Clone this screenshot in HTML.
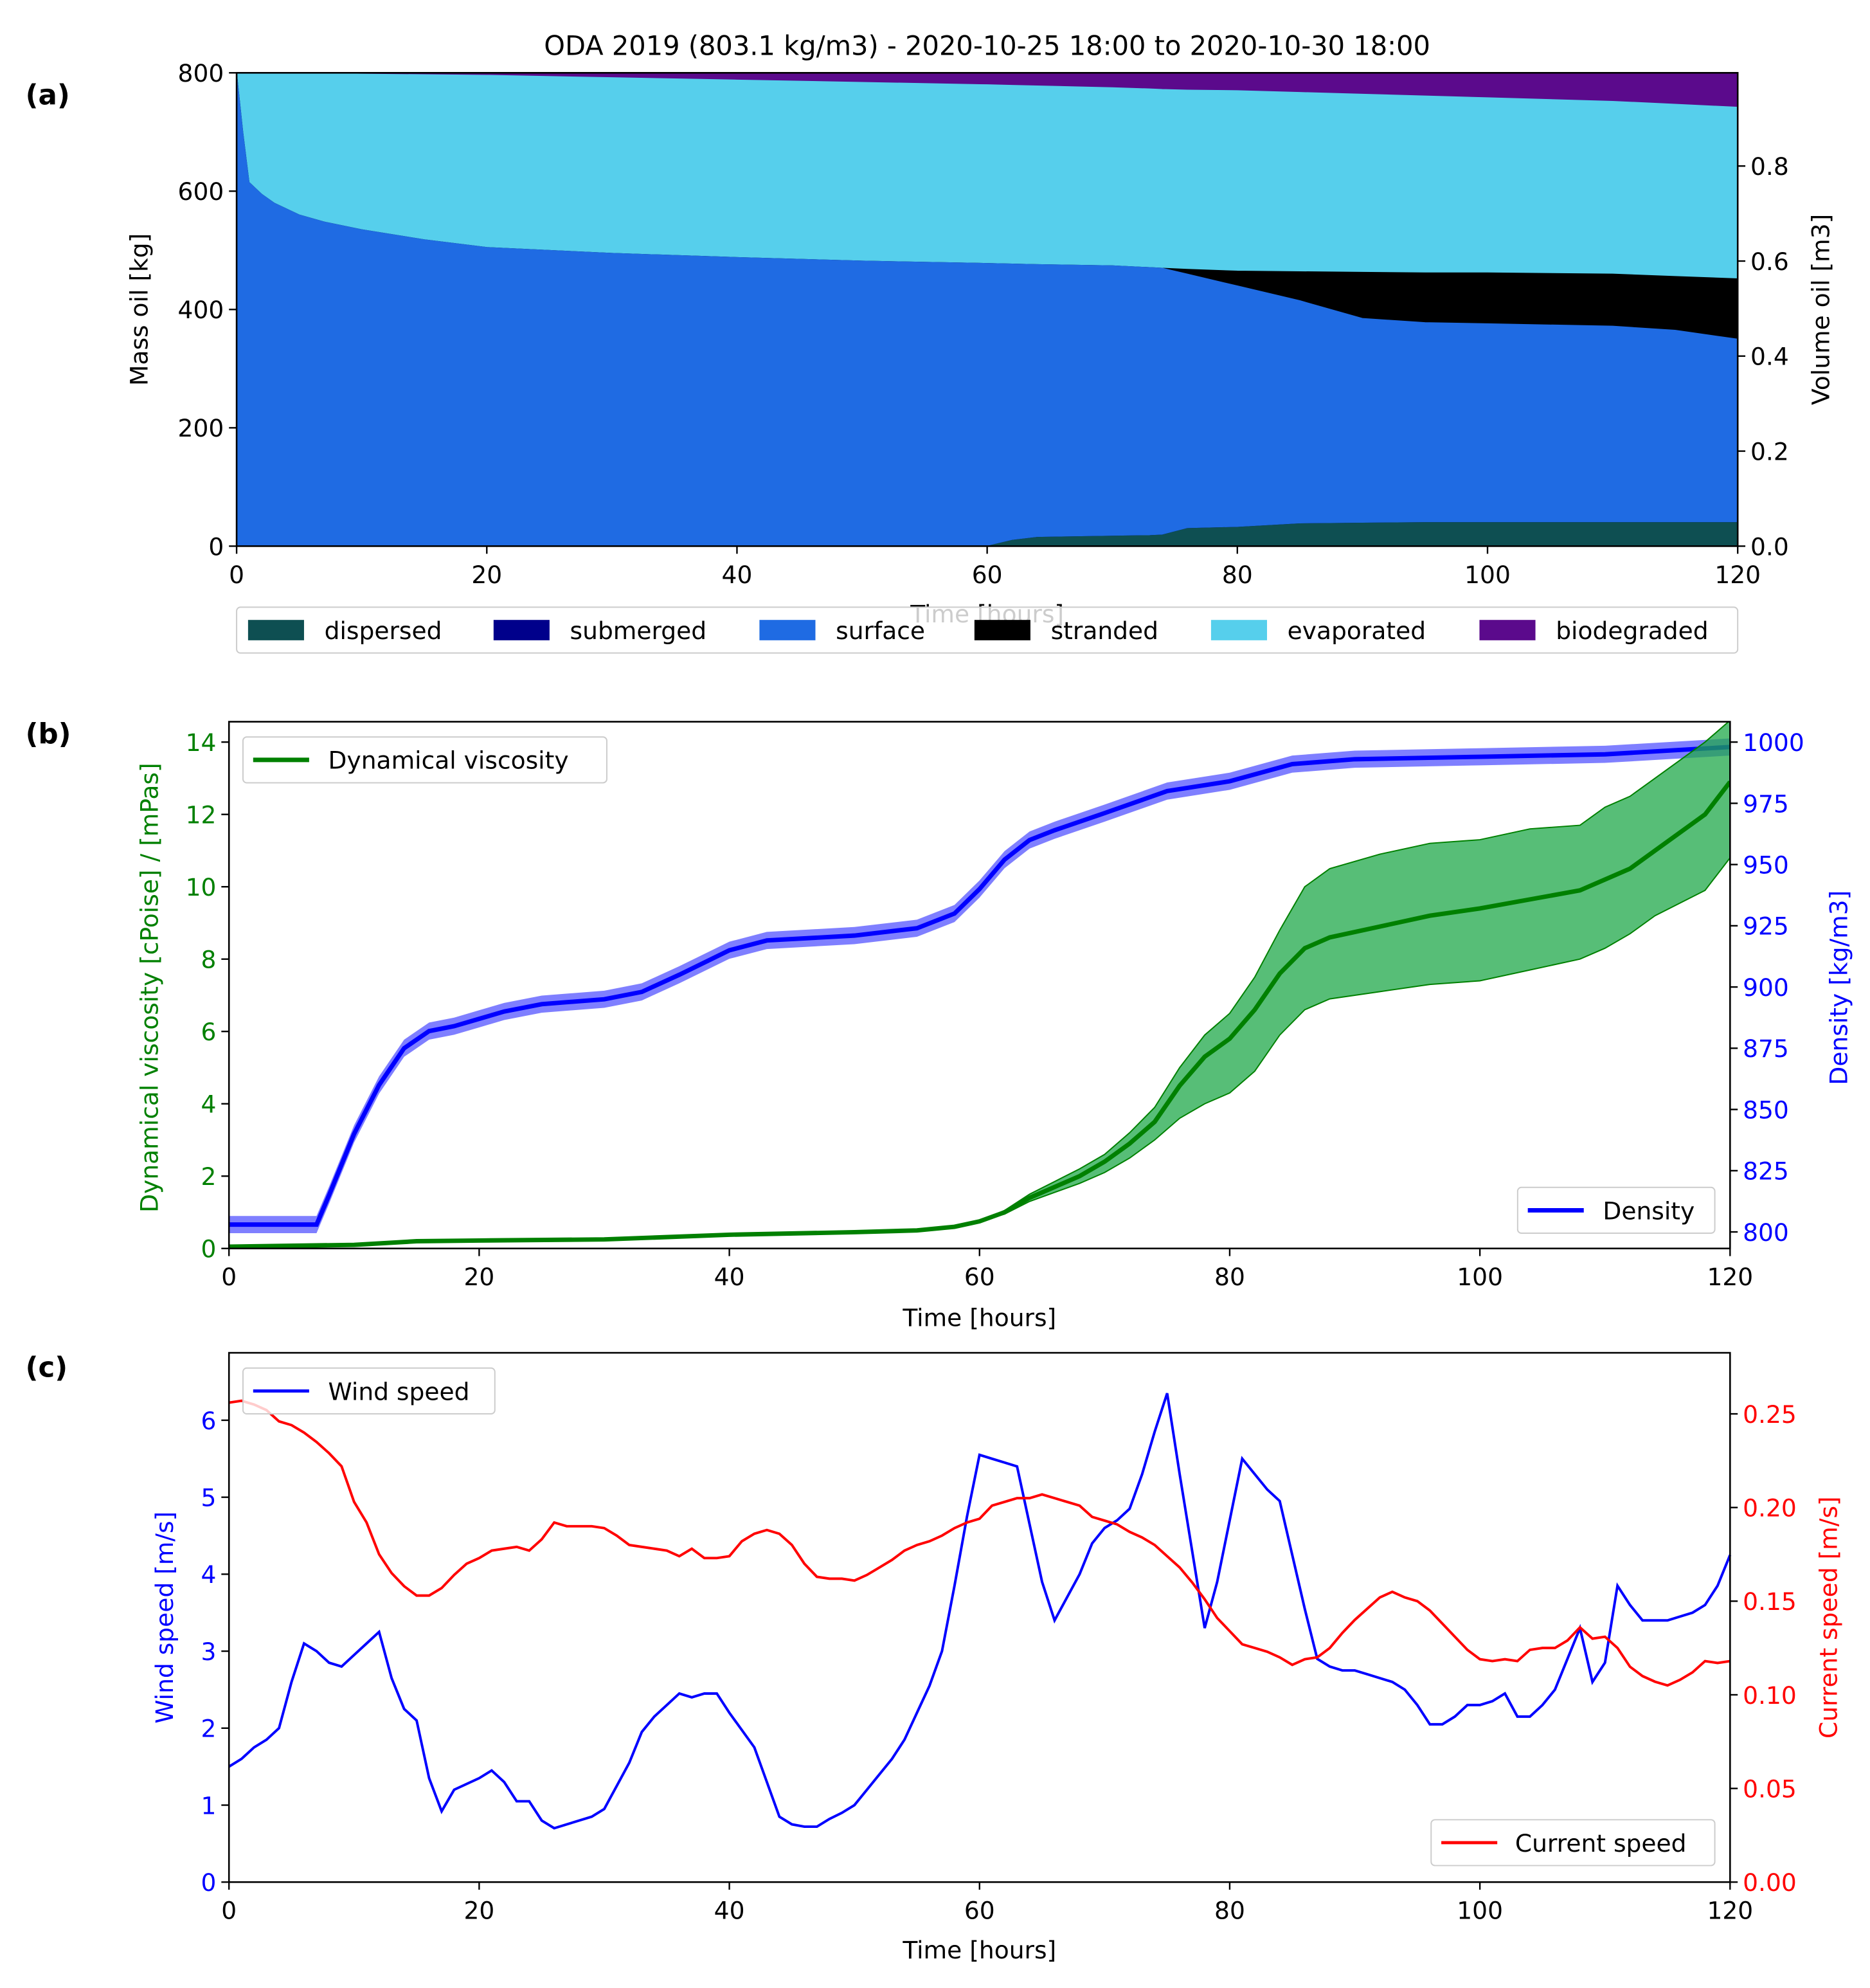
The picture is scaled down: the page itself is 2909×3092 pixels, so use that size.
<!DOCTYPE html>
<html><head><meta charset="utf-8"><style>
html,body{margin:0;padding:0;background:#fff}
svg{display:block}
text{font-family:"DejaVu Sans","Liberation Sans",sans-serif}
</style></head><body>
<svg id="fig" xmlns="http://www.w3.org/2000/svg" width="2909" height="3092" viewBox="0 0 1470 1562"></svg>
<script>
// ---------- Panel (a) data ----------
const aTimes = [0,0.5,1,2,3,5,7,10,15,20,30,40,50,60,62,64,70,73,74,76,80,85,90,95,100,110,115,120];
const aDispersed = [0,0,0,0,0,0,0,0,0,0,0,0,0,0,10,15,17,18,19,30,32,38,39,40,40,40,40,40];
const aSubmerged = [0,0,0,0,0,0,0,0,0,0,0,0,0,0,0,0,0,0,0,0,0,0,0,0,0,0,0,0];
const aSurfaceTop = [800,700,615,595,580,560,548,535,518,505,495,488,482,478,477,476,474,471,470,460,440,415,385,378,376,372,365,350];
const aStrandedTop = [800,700,615,595,580,560,548,535,518,505,495,488,482,478,477,476,474,471,470,468,465,464,463,462,462,460,456,452];
const aEvapTop = [800,800,800,800,800,799,799,798,797,796,792,788,784,780,779,778,775,773,772,771,770,767,764,761,758,752,747,742];
const aTicksX = [0,20,40,60,80,100,120];
const aTicksY = [0,200,400,600,800];
const aTicksVol = [0.0,0.2,0.4,0.6,0.8];
// ---------- Panel (b) data ----------
const bTimes = [0,7,8,10,12,14,16,18,20,22,25,30,33,36,40,43,50,55,58,60,62,64,66,70,75,80,85,90,100,110,120];
const bDensity = [803,803,815,840,860,875,882,884,887,890,893,895,898,905,915,919,921,924,930,940,952,960,964,971,980,984,991,993,994,995,998];
const vTimes = [0,10,15,20,30,40,50,55,58,60,62,64,66,68,70,72,74,76,78,80,82,84,86,88,92,96,100,104,108,110,112,114,118,120];
const vMean = [0.05,0.1,0.2,0.22,0.25,0.38,0.45,0.5,0.6,0.75,1.0,1.4,1.7,2.0,2.4,2.9,3.5,4.5,5.3,5.8,6.6,7.6,8.3,8.6,8.9,9.2,9.4,9.65,9.9,10.2,10.5,11.0,12.0,12.9];
const vLow = [0.05,0.1,0.2,0.22,0.25,0.38,0.45,0.5,0.6,0.75,0.95,1.3,1.55,1.8,2.1,2.5,3.0,3.6,4.0,4.3,4.9,5.9,6.6,6.9,7.1,7.3,7.4,7.7,8.0,8.3,8.7,9.2,9.9,10.8];
const vHigh = [0.05,0.1,0.2,0.22,0.25,0.38,0.45,0.5,0.6,0.75,1.05,1.5,1.85,2.2,2.6,3.2,3.9,5.0,5.9,6.5,7.5,8.8,10.0,10.5,10.9,11.2,11.3,11.6,11.7,12.2,12.5,13.0,14.0,14.6];
const bTicksV = [0,2,4,6,8,10,12,14];
const bTicksD = [800,825,850,875,900,925,950,975,1000];
// ---------- Panel (c) data ----------
const windTimes = [0,1,2,3,4,5,6,7,8,9,10,11,12,13,14,15,16,17,18,20,21,22,23,24,25,26,27,28,29,30,31,32,33,34,35,36,37,38,39,40,42,43,44,45,46,47,48,49,50,51,52,53,54,55,56,57,58,59,60,61,62,63,64,65,66,67,68,69,70,71,72,73,74,75,76,77,78,79,80,81,82,83,84,85,86,87,88,89,90,91,92,93,94,95,96,97,98,99,100,101,102,103,104,105,106,107,108,109,110,111,112,113,114,115,116,117,118,119,120];
const windSpeed = [1.5,1.6,1.75,1.85,2.0,2.6,3.1,3.0,2.85,2.8,2.95,3.1,3.25,2.65,2.25,2.1,1.35,0.92,1.2,1.35,1.45,1.3,1.05,1.05,0.8,0.7,0.75,0.8,0.85,0.95,1.25,1.55,1.95,2.15,2.3,2.45,2.4,2.45,2.45,2.2,1.75,1.3,0.85,0.75,0.72,0.72,0.82,0.9,1.0,1.2,1.4,1.6,1.85,2.2,2.55,3.0,3.85,4.75,5.55,5.5,5.45,5.4,4.65,3.9,3.4,3.7,4.0,4.4,4.6,4.7,4.85,5.3,5.85,6.35,5.3,4.3,3.3,3.9,4.7,5.5,5.3,5.1,4.95,4.25,3.55,2.9,2.8,2.75,2.75,2.7,2.65,2.6,2.5,2.3,2.05,2.05,2.15,2.3,2.3,2.35,2.45,2.15,2.15,2.3,2.5,2.9,3.3,2.6,2.85,3.85,3.6,3.4,3.4,3.4,3.45,3.5,3.6,3.85,4.25];
const curTimes = [0,1,2,3,4,5,6,7,8,9,10,11,12,13,14,15,16,17,18,19,20,21,22,23,24,25,26,27,28,29,30,31,32,33,34,35,36,37,38,39,40,41,42,43,44,45,46,47,48,49,50,51,52,53,54,55,56,57,58,59,60,61,62,63,64,65,66,67,68,69,70,71,72,73,74,75,76,77,78,79,80,81,82,83,84,85,86,87,88,89,90,91,92,93,94,95,96,97,98,99,100,101,102,103,104,105,106,107,108,109,110,111,112,113,114,115,116,117,118,119,120];
const curSpeed = [0.256,0.257,0.255,0.252,0.246,0.244,0.24,0.235,0.229,0.222,0.203,0.192,0.175,0.165,0.158,0.153,0.153,0.157,0.164,0.17,0.173,0.177,0.178,0.179,0.177,0.183,0.192,0.19,0.19,0.19,0.189,0.185,0.18,0.179,0.178,0.177,0.174,0.178,0.173,0.173,0.174,0.182,0.186,0.188,0.186,0.18,0.17,0.163,0.162,0.162,0.161,0.164,0.168,0.172,0.177,0.18,0.182,0.185,0.189,0.192,0.194,0.201,0.203,0.205,0.205,0.207,0.205,0.203,0.201,0.195,0.193,0.191,0.187,0.184,0.18,0.174,0.168,0.16,0.151,0.141,0.134,0.127,0.125,0.123,0.12,0.116,0.119,0.12,0.125,0.133,0.14,0.146,0.152,0.155,0.152,0.15,0.145,0.138,0.131,0.124,0.119,0.118,0.119,0.118,0.124,0.125,0.125,0.129,0.136,0.13,0.131,0.125,0.115,0.11,0.107,0.105,0.108,0.112,0.118,0.117,0.118];
const cTicksW = [0,1,2,3,4,5,6];
const cTicksC = [0.00,0.05,0.10,0.15,0.20,0.25];

const svg = document.getElementById('fig');
const NS = 'http://www.w3.org/2000/svg';
function mk(tag, attrs, parent, txt){
  const e = document.createElementNS(NS, tag);
  for (const k in attrs) e.setAttribute(k, attrs[k]);
  if (txt !== undefined) e.textContent = txt;
  (parent||svg).appendChild(e);
  return e;
}
function lin(d0,d1,r0,r1){ return v => r0 + (v-d0)/(d1-d0)*(r1-r0); }
function pathLine(xs, ys, fx, fy){ return xs.map((t,i)=>(i?'L':'M')+fx(t).toFixed(2)+','+fy(ys[i]).toFixed(2)).join(''); }
function pathBand(xs, lo, hi, fx, fy){
  let d = xs.map((t,i)=>(i?'L':'M')+fx(t).toFixed(2)+','+fy(hi[i]).toFixed(2)).join('');
  for (let i=xs.length-1;i>=0;i--) d += 'L'+fx(xs[i]).toFixed(2)+','+fy(lo[i]).toFixed(2);
  return d+'Z';
}
const FS = 19;
function xAxis(g, fx, y, ticks){
  ticks.forEach(t=>{
    const x = fx(t);
    const l = mk('line',{x1:x,x2:x,y1:y,y2:y+6,stroke:'#000','stroke-width':1.2},g);
     
    const tx = mk('text',{x:x,y:y+29,'text-anchor':'middle','font-size':FS},g,String(t));
     
  });
}
function yAxis(g, fy, x, ticks, side, color, fmt){
  ticks.forEach(t=>{
    const y = fy(t);
    const dx = side==='left' ? -6 : 6;
    const l = mk('line',{x1:x,x2:x+dx,y1:y,y2:y,stroke:'#000','stroke-width':1.2},g);
     
    const tx = mk('text',{x:side==='left'?x-10:x+10,y:y+7,'text-anchor':side==='left'?'end':'start','font-size':FS,fill:color},g,fmt?fmt(t):String(t));
     
  });
}
function rotText(g, x, y, s, color, name){
  const t = mk('text',{x:x,y:y,'text-anchor':'middle','font-size':FS,fill:color,transform:`rotate(-90 ${x} ${y})`},g,s);
   
  return t;
}
function frame(g,x0,y0,x1,y1){
  const r = mk('rect',{x:x0,y:y0,width:x1-x0,height:y1-y0,fill:'none',stroke:'#000','stroke-width':1.3},g);
   
}
function legendBox(g,x,y,w,h,name){
  const r = mk('rect',{x:x,y:y,width:w,height:h,rx:3,fill:'#fff','fill-opacity':0.8,stroke:'#ccc','stroke-width':1},g);
   
}

// ========== Panel (a) ==========
{
  const g = mk('g',{});  
  const X0=186,X1=1366,Y0=57,Y1=429;
  const fx = lin(0,120,X0,X1), fy = lin(0,800,Y1,Y0), fvol = lin(0,800/803.1,Y1,Y0);
  const zeros = aTimes.map(()=>0), full = aTimes.map(()=>800);
  const disp = aDispersed, sub = aDispersed.map((v,i)=>v+aSubmerged[i]);
  const layers = [
    ['biodegraded-area','#5b0a8c',aEvapTop,full],
    ['evaporated-area','#56cfec',aStrandedTop,aEvapTop],
    ['stranded-area','#000000',aSurfaceTop,aStrandedTop],
    ['surface-area','#1f6be3',sub,aSurfaceTop],
    ['submerged-area','#00008b',disp,sub],
    ['dispersed-area','#0e4f52',zeros,disp]
  ];
  layers.forEach(([n,c,lo,hi])=>{
    const p = mk('path',{d:pathBand(aTimes,lo,hi,fx,fy),fill:c,stroke:c,'stroke-width':0.5},g);
     
  });
  frame(g,X0,Y0,X1,Y1);
  xAxis(g,fx,Y1,aTicksX);
  yAxis(g,fy,X0,aTicksY,'left','#000');
  yAxis(g,fvol,X1,aTicksVol,'right','#000',v=>v.toFixed(1));
  rotText(g,116,243,'Mass oil  [kg]','#000','y-axis-title-mass');
  rotText(g,1438,243,'Volume oil [m3]','#000','y-axis-title-volume');
  const xt = mk('text',{x:776,y:489,'text-anchor':'middle','font-size':FS,fill:'#000'},g,'Time  [hours]');
   
  const tt = mk('text',{x:776,y:43,'text-anchor':'middle','font-size':21},g,'ODA 2019 (803.1 kg/m3) - 2020-10-25 18:00 to 2020-10-30 18:00');
   
  const pl = mk('text',{x:20,y:82,'font-size':22,'font-weight':'bold'},g,'(a)');
   
  legendBox(g,186,477,1180,36,'legend-a');
  const entries = [['dispersed','#0e4f52',195],['submerged','#00008b',388],['surface','#1f6be3',597],['stranded','#000',766],['evaporated','#56cfec',952],['biodegraded','#5b0a8c',1163]];
  entries.forEach(([n,c,x])=>{
    const s = mk('rect',{x:x,y:487,width:44,height:16,fill:c},g);
     
    const t = mk('text',{x:x+60,y:502,'font-size':FS},g,n);
     
  });
}

// ========== Panel (b) ==========
{
  const g = mk('g',{});  
  const X0=180,X1=1360,Y0=567,Y1=981;
  const fx = lin(0,120,X0,X1), fv = lin(0,14,Y1,583), fd = lin(800,1000,968,583);
  const clip = mk('clipPath',{id:'clipb'},g); mk('rect',{x:X0,y:Y0,width:X1-X0,height:Y1-Y0},clip);
  const inner = mk('g',{'clip-path':'url(#clipb)'},g);
  const dLo = bDensity.map(v=>v-3.5), dHi = bDensity.map(v=>v+3.5);
  const db = mk('path',{d:pathBand(bTimes,dLo,dHi,fx,fd),fill:'#0000ff','fill-opacity':0.5,stroke:'none'},inner);
   
  const dl = mk('path',{d:pathLine(bTimes,bDensity,fx,fd),fill:'none',stroke:'#0000ff','stroke-width':3.5},inner);
   
  const vb = mk('path',{d:pathBand(vTimes,vLow,vHigh,fx,fv),fill:'#1fa84a','fill-opacity':0.75,stroke:'#008000','stroke-width':1},inner);
   
  const vl = mk('path',{d:pathLine(vTimes,vMean,fx,fv),fill:'none',stroke:'#008000','stroke-width':3.5},inner);
   
  frame(g,X0,Y0,X1,Y1);
  xAxis(g,fx,Y1,aTicksX);
  yAxis(g,fv,X0,bTicksV,'left','#008000');
  yAxis(g,fd,X1,bTicksD,'right','#0000ff');
  rotText(g,124,776,'Dynamical viscosity  [cPoise] / [mPas]','#008000','y-axis-title-viscosity');
  rotText(g,1452,776,'Density  [kg/m3]','#0000ff','y-axis-title-density');
  const xt = mk('text',{x:770,y:1042,'text-anchor':'middle','font-size':FS},g,'Time [hours]');
   
  const pl = mk('text',{x:20,y:584,'font-size':22,'font-weight':'bold'},g,'(b)');
   
  legendBox(g,191,579,286,36,'legend-viscosity');
  const l1 = mk('line',{x1:199,x2:243,y1:597,y2:597,stroke:'#008000','stroke-width':3.5},g);
   
  const t1 = mk('text',{x:258,y:604,'font-size':FS},g,'Dynamical viscosity');
   
  legendBox(g,1193,933,155,36,'legend-density');
  const l2 = mk('line',{x1:1201,x2:1245,y1:951,y2:951,stroke:'#0000ff','stroke-width':3.5},g);
   
  const t2 = mk('text',{x:1260,y:958,'font-size':FS},g,'Density');
   
}

// ========== Panel (c) ==========
{
  const g = mk('g',{});  
  const X0=180,X1=1360,Y0=1063,Y1=1479;
  const fx = lin(0,120,X0,X1), fw = lin(0,6,Y1,1116), fc = lin(0,0.25,Y1,1111);
  const wl = mk('path',{d:pathLine(windTimes,windSpeed,fx,fw),fill:'none',stroke:'#0000ff','stroke-width':2},g);
   
  const cl = mk('path',{d:pathLine(curTimes,curSpeed,fx,fc),fill:'none',stroke:'#ff0000','stroke-width':2},g);
   
  frame(g,X0,Y0,X1,Y1);
  xAxis(g,fx,Y1,aTicksX);
  yAxis(g,fw,X0,cTicksW,'left','#0000ff');
  yAxis(g,fc,X1,cTicksC,'right','#ff0000',v=>v.toFixed(2));
  rotText(g,136,1271,'Wind speed  [m/s]','#0000ff','y-axis-title-wind');
  rotText(g,1444,1271,'Current speed  [m/s]','#ff0000','y-axis-title-current');
  const xt = mk('text',{x:770,y:1539,'text-anchor':'middle','font-size':FS},g,'Time  [hours]');
   
  const pl = mk('text',{x:20,y:1082,'font-size':22,'font-weight':'bold'},g,'(c)');
   
  legendBox(g,191,1075,198,36,'legend-wind');
  const l1 = mk('line',{x1:199,x2:243,y1:1093,y2:1093,stroke:'#0000ff','stroke-width':2.5},g);
   
  const t1 = mk('text',{x:258,y:1100,'font-size':FS},g,'Wind speed');
   
  legendBox(g,1125,1430,223,36,'legend-current');
  const l2 = mk('line',{x1:1133,x2:1177,y1:1448,y2:1448,stroke:'#ff0000','stroke-width':2.5},g);
   
  const t2 = mk('text',{x:1191,y:1455,'font-size':FS},g,'Current speed');
   
}
</script>
</body></html>
